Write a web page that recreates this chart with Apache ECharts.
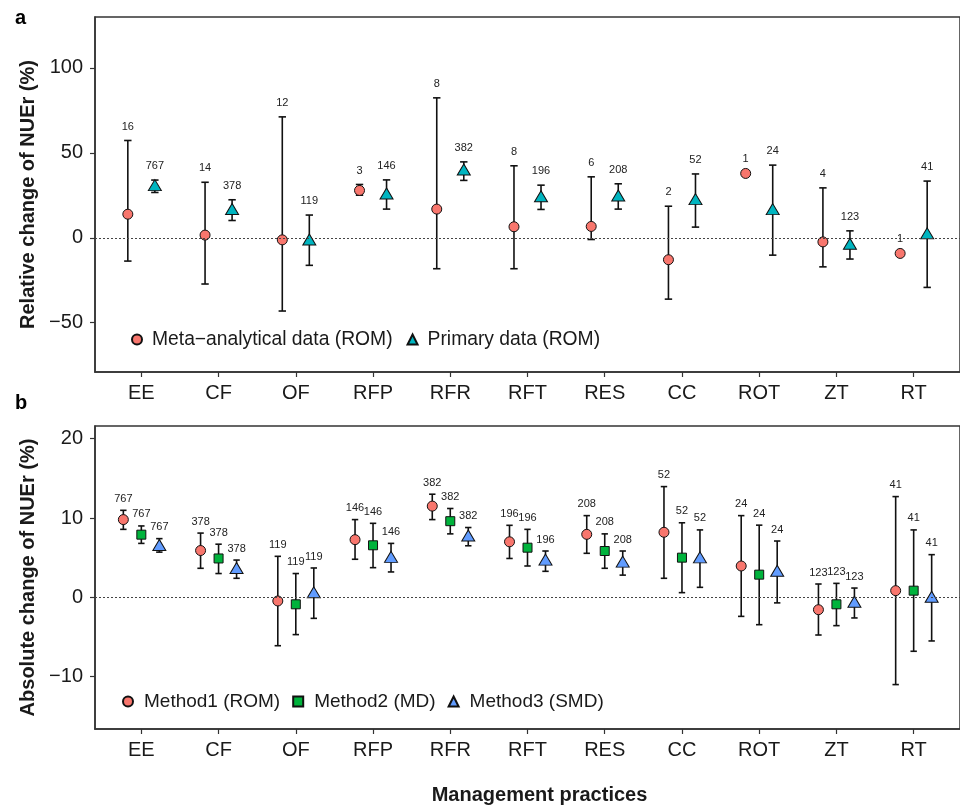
<!DOCTYPE html>
<html>
<head>
<meta charset="utf-8">
<script src="https://cdn.jsdelivr.net/npm/echarts@6/dist/echarts.min.js"></script>
<style>
  html, body { margin: 0; padding: 0; background: #fff; }
  #chart { width: 960px; height: 808px; }
</style>
</head>
<body>
<div id="chart"></div>
<script>
const categories = ['EE', 'CF', 'OF', 'RFP', 'RFR', 'RFT', 'RES', 'CC', 'ROT', 'ZT', 'RT']

// panel a: relative change (ROM)
const metaMean = [13.9, 1.6, -1.2, 27.9, 16.9, 6.5, 6.7, -12.9, 37.9, -2.4, -9.2]
const metaLow = [-13.7, -27.2, -43.1, 25.1, -18.2, -18.2, -1, -36.1, null, -17.1, null]
const metaHigh = [57.3, 32.7, 71.2, 31.4, 82.4, 42.4, 35.9, 18.6, null, 29.4, null]
const metaN = [16, 14, 12, 3, 8, 8, 6, 2, 1, 4, 1]
const primMean = [31, 17, -1, 26.1, 40.2, 24.5, 24.9, 22.8, 16.9, -3.5, 2.6]
const primLow = [26.7, 10.2, -16.2, 16.9, 33.8, 16.7, 16.9, 6.3, -10.2, -12.5, -29.2]
const primHigh = [34, 22.4, 13.4, 34.1, 44.7, 31, 31.8, 37.6, 42.8, 4.1, 33.4]
const primN = [767, 378, 119, 146, 382, 196, 208, 52, 24, 123, 41]

// panel b: absolute change, three methods
const m1Mean = [9.8, 5.9, -0.46, 7.27, 11.5, 7.0, 7.94, 8.2, 3.95, -1.56, 0.84]
const m1Low = [8.57, 3.66, -6.1, 4.8, 9.8, 4.9, 5.55, 2.4, -2.4, -4.75, -11.0]
const m1High = [10.97, 8.1, 5.17, 9.8, 13.0, 9.08, 10.3, 13.96, 10.3, 1.68, 12.7]
const m2Mean = [7.9, 4.9, -0.88, 6.56, 9.6, 6.26, 5.84, 5.0, 2.86, -0.88, 0.84]
const m2Low = [6.8, 3.0, -4.7, 3.74, 8.0, 3.95, 3.66, 0.59, -3.45, -3.57, -6.8]
const m2High = [9.0, 6.7, 3.0, 9.33, 11.2, 8.57, 8.0, 9.4, 9.1, 1.76, 8.5]
const m3Mean = [6.6, 3.7, 0.63, 5.1, 7.8, 4.75, 4.5, 5.04, 3.36, -0.55, 0.08]
const m3Low = [5.7, 2.4, -2.65, 3.2, 6.5, 3.28, 2.8, 1.26, -0.7, -2.6, -5.5]
const m3High = [7.4, 4.7, 3.7, 6.8, 8.8, 5.84, 5.84, 8.5, 7.1, 1.17, 5.38]
const methodN = [767, 378, 119, 146, 382, 196, 208, 52, 24, 123, 41]

const yTicksA = [-50, 0, 50, 100]
const yTicksB = [-10, 0, 10, 20]
const xTicks = [0, 1, 2, 3, 4, 5, 6, 7, 8, 9, 10]

const FONT = "'Liberation Sans', Arial, Helvetica, sans-serif"
const INK = '#1a1a1a'

function points(mean, off) {
  return mean.map((v, i) => [i + off, v])
}

function bars(mean, low, high, n, off) {
  return mean.map((v, i) => {
    const has = low[i] != null
    return [i + off, has ? low[i] : v, has ? high[i] : v, n[i], has ? 1 : 0]
  })
}

function errRender(cap, gap) {
  return function (params, api) {
    const x = api.value(0)
    const lo = api.coord([x, api.value(1)])
    const hi = api.coord([x, api.value(2)])
    const st = { stroke: '#111', lineWidth: 1.6 }
    const kids = []
    if (api.value(4)) {
      kids.push({ type: 'line', shape: { x1: lo[0], y1: lo[1], x2: hi[0], y2: hi[1] }, style: st })
      kids.push({ type: 'line', shape: { x1: hi[0] - cap, y1: hi[1], x2: hi[0] + cap, y2: hi[1] }, style: st })
      kids.push({ type: 'line', shape: { x1: lo[0] - cap, y1: lo[1], x2: lo[0] + cap, y2: lo[1] }, style: st })
    }
    kids.push({
      type: 'text',
      style: {
        text: String(api.value(3)), x: hi[0], y: hi[1] - gap,
        align: 'center', verticalAlign: 'middle',
        fontSize: 11, fontFamily: FONT, fill: '#222'
      }
    })
    return { type: 'group', children: kids }
  }
}

const zeroLine = {
  silent: true,
  symbol: 'none',
  label: { show: false },
  lineStyle: { type: [2, 2], color: '#444', width: 1 },
  data: [{ yAxis: 0 }]
}

function xAxis(idx, extra) {
  return Object.assign({
    type: 'value', gridIndex: idx, min: -0.6, max: 10.6,
    axisLine: { show: true, onZero: false, lineStyle: { color: '#333', width: 1.5 } },
    axisTick: { show: true, customValues: xTicks, length: 5, lineStyle: { color: '#333', width: 1.2 } },
    axisLabel: {
      customValues: xTicks, formatter: v => categories[Math.round(v)],
      fontSize: 20, color: INK, fontFamily: FONT, margin: 11
    },
    splitLine: { show: false }
  }, extra || {})
}

function yAxis(idx, min, max, ticks, name) {
  return {
    type: 'value', gridIndex: idx, min: min, max: max,
    name: name, nameLocation: 'middle', nameGap: 55,
    nameTextStyle: { fontSize: 20, fontWeight: 'bold', color: INK, fontFamily: FONT },
    axisLine: { show: true, onZero: false, lineStyle: { color: '#333', width: 1.5 } },
    axisTick: { show: true, customValues: ticks, length: 5, lineStyle: { color: '#333', width: 1.2 } },
    axisLabel: {
      customValues: ticks, formatter: v => String(v).replace('-', '\u2212'),
      fontSize: 20, color: INK, fontFamily: FONT, margin: 12
    },
    splitLine: { show: false }
  }
}

const dotA = 0.175
const dotB = 0.233

const option = {
  animation: false,
  textStyle: { fontFamily: FONT },
  title: [
    { text: 'a', left: 10, top: 3, textStyle: { fontSize: 20, fontWeight: 'bold', color: '#000', fontFamily: FONT } },
    { text: 'b', left: 10, top: 388, textStyle: { fontSize: 20, fontWeight: 'bold', color: '#000', fontFamily: FONT } }
  ],
  grid: [
    { left: 95, top: 17, width: 876, height: 355, show: true, borderColor: '#333', borderWidth: 1.5 },
    { left: 95, top: 426, width: 876, height: 303, show: true, borderColor: '#333', borderWidth: 1.5 }
  ],
  legend: [
    {
      data: ['Meta\u2212analytical data (ROM)', 'Primary data (ROM)'],
      left: 126, top: 325, itemWidth: 10, itemHeight: 10, itemGap: 14,
      textStyle: { fontSize: 19.3, color: INK, fontFamily: FONT, padding: [0, 0, 0, 5] }
    },
    {
      data: ['Method1 (ROM)', 'Method2 (MD)', 'Method3 (SMD)'],
      left: 117, top: 687, itemWidth: 10, itemHeight: 10, itemGap: 12,
      textStyle: { fontSize: 19, color: INK, fontFamily: FONT, padding: [0, 0, 0, 6] }
    }
  ],
  xAxis: [
    xAxis(0),
    xAxis(1, {
      name: 'Management practices', nameLocation: 'middle', nameGap: 56,
      nameTextStyle: { fontSize: 20, fontWeight: 'bold', color: INK, fontFamily: FONT, padding: [0, 0, 0, 24] }
    })
  ],
  yAxis: [
    yAxis(0, -79, 130, yTicksA, 'Relative change of NUEr (%)'),
    yAxis(1, -16.6, 21.6, yTicksB, 'Absolute change of NUEr (%)')
  ],
  series: [
    // panel a
    { type: 'custom', xAxisIndex: 0, yAxisIndex: 0, renderItem: errRender(3.7, 14), data: bars(metaMean, metaLow, metaHigh, metaN, -dotA), z: 2, markLine: zeroLine },
    { type: 'custom', xAxisIndex: 0, yAxisIndex: 0, renderItem: errRender(3.7, 14), data: bars(primMean, primLow, primHigh, primN, dotA), z: 2 },
    {
      name: 'Meta\u2212analytical data (ROM)', type: 'scatter', xAxisIndex: 0, yAxisIndex: 0,
      symbol: 'circle', symbolSize: 10, z: 3,
      itemStyle: { color: '#F8766D', borderColor: '#111', borderWidth: 1, opacity: 1 },
      data: points(metaMean, -dotA)
    },
    {
      name: 'Primary data (ROM)', type: 'scatter', xAxisIndex: 0, yAxisIndex: 0,
      symbol: 'triangle', symbolSize: [13, 11], z: 3,
      itemStyle: { color: '#00B5C0', borderColor: '#111', borderWidth: 1, opacity: 1 },
      data: points(primMean, dotA)
    },
    // panel b
    { type: 'custom', xAxisIndex: 1, yAxisIndex: 1, renderItem: errRender(3.2, 11.5), data: bars(m1Mean, m1Low, m1High, methodN, -dotB), z: 2, markLine: zeroLine },
    { type: 'custom', xAxisIndex: 1, yAxisIndex: 1, renderItem: errRender(3.2, 11.5), data: bars(m2Mean, m2Low, m2High, methodN, 0), z: 2 },
    { type: 'custom', xAxisIndex: 1, yAxisIndex: 1, renderItem: errRender(3.2, 11.5), data: bars(m3Mean, m3Low, m3High, methodN, dotB), z: 2 },
    {
      name: 'Method1 (ROM)', type: 'scatter', xAxisIndex: 1, yAxisIndex: 1,
      symbol: 'circle', symbolSize: 10, z: 3,
      itemStyle: { color: '#F8766D', borderColor: '#111', borderWidth: 1, opacity: 1 },
      data: points(m1Mean, -dotB)
    },
    {
      name: 'Method2 (MD)', type: 'scatter', xAxisIndex: 1, yAxisIndex: 1,
      symbol: 'rect', symbolSize: 9, z: 3,
      itemStyle: { color: '#00B33C', borderColor: '#111', borderWidth: 1, opacity: 1 },
      data: points(m2Mean, 0)
    },
    {
      name: 'Method3 (SMD)', type: 'scatter', xAxisIndex: 1, yAxisIndex: 1,
      symbol: 'triangle', symbolSize: [13, 11], z: 3,
      itemStyle: { color: '#619CFF', borderColor: '#111', borderWidth: 1, opacity: 1 },
      data: points(m3Mean, dotB)
    }
  ]
}

const myChart = echarts.init(document.getElementById('chart'))
myChart.setOption(option)
</script>
</body>
</html>
